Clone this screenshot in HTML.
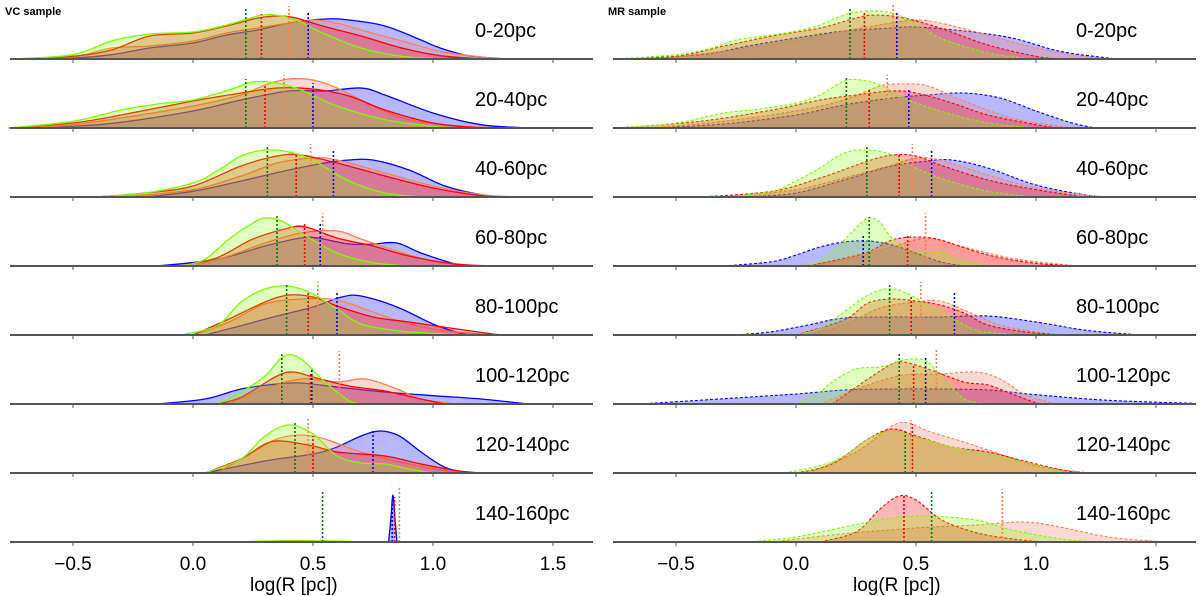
<!DOCTYPE html>
<html><head><meta charset="utf-8">
<style>
body{margin:0;background:#fff;}
svg{display:block;font-family:"Liberation Sans","DejaVu Sans",sans-serif;}
</style></head>
<body>
<svg id="chart" width="1200" height="596" viewBox="0 0 1200 596">
<text x="5" y="15" font-size="11" font-weight="bold">VC sample</text>
<text x="608" y="15" font-size="11" font-weight="bold">MR sample</text>
<g id="left"></g>
<g id="right"></g>
</svg>
<script>
// ---- data (logR, density pairs) ----
const rowLabels = ["0-20pc","20-40pc","40-60pc","60-80pc","80-100pc","100-120pc","120-140pc","140-160pc"];
const xTicks = [-0.5, 0.0, 0.5, 1.0, 1.5];
const xTickLabels = ["\u22120.5","0.0","0.5","1.0","1.5"];

const vcGreen = [
[-0.75,0,-0.5,.43,-0.34,1.8,-0.18,2.5,0,2.7,0.14,3.4,0.27,4.3,0.34,4.4,0.43,3.9,0.54,2.6,0.7,1.1,0.87,.27,1.03,0],
[-0.77,0,-0.5,.67,-0.3,1.8,-0.15,2.4,0,2.8,0.15,3.8,0.25,4.6,0.35,4.5,0.45,3.8,0.6,2.2,0.8,.83,1.0,.17,1.1,0],
[-0.4,0,-0.2,.4,0,1.4,0.1,2.6,0.2,4.1,0.3,4.7,0.4,4.5,0.5,3.7,0.65,1.6,0.8,.4,0.95,0],
[-0.05,0,0.05,.67,0.15,2.7,0.25,4.3,0.3,4.8,0.37,4.5,0.45,3.3,0.6,1.3,0.75,.33,0.9,0],
[-0.05,0,0.1,.93,0.2,3.3,0.3,4.6,0.4,4.9,0.5,4.1,0.6,2.6,0.7,1.1,0.85,.43,1.0,.17,1.1,0],
[0.1,0,0.2,1.2,0.3,2.8,0.38,4.8,0.45,4.5,0.55,2.2,0.65,.33,0.7,0],
[0.05,0,0.2,1.4,0.3,3.7,0.4,4.8,0.5,3.9,0.6,1.7,0.7,1.0,0.8,.9,0.9,.4,1.0,0],
[0.2,0,0.3,.1,0.45,.12,0.6,.1,0.7,0]];
const vcRed = [
[-0.75,0,-0.5,.27,-0.34,.9,-0.18,2.3,0,2.6,0.14,3.3,0.27,4.1,0.36,4.3,0.43,4.1,0.54,3.3,0.7,2.3,0.87,1.1,1.03,.33,1.2,0],
[-0.77,0,-0.5,.5,-0.3,1.3,0,2.7,0.2,3.5,0.35,4.0,0.5,3.9,0.65,3.2,0.8,1.8,1.0,.5,1.2,0],
[-0.4,0,-0.2,.4,0,1.1,0.2,3.1,0.35,4.1,0.45,4.2,0.6,3.4,0.8,2.1,1.0,.9,1.2,.13,1.3,0],
[-0.05,0,0.1,.83,0.25,2.7,0.4,3.8,0.47,3.9,0.6,2.8,0.75,2.0,0.9,1.0,1.1,.17,1.3,0],
[0,0,0.15,1.6,0.3,3.3,0.4,4.0,0.5,3.8,0.6,2.9,0.75,1.8,0.9,1.3,1.1,.6,1.25,.1,1.3,0],
[0.1,0,0.2,.67,0.35,2.8,0.42,3.2,0.5,2.7,0.65,1.8,0.8,1.3,0.95,.5,1.05,0],
[0.05,0,0.2,1.4,0.3,2.9,0.37,3.2,0.5,2.7,0.6,2.1,0.8,1.7,0.95,.9,1.1,.23,1.2,0],
[0.25,0,0.35,.1,0.5,.1,0.6,0]];
const vcSalmon = [
[-0.7,0,-0.5,.2,-0.34,1.1,-0.18,1.3,0,1.8,0.14,2.6,0.27,3.1,0.4,3.6,0.5,3.9,0.6,3.6,0.7,2.9,0.87,1.8,1.03,.77,1.2,.2,1.3,0],
[-0.7,0,-0.5,.33,-0.3,1.0,0,2.2,0.2,3.3,0.3,4.3,0.4,4.9,0.5,4.8,0.6,4.0,0.75,2.2,0.9,.83,1.1,.23,1.3,0],
[-0.3,0,0,.73,0.2,2.1,0.35,3.4,0.5,3.9,0.6,3.7,0.8,2.4,1.0,1.1,1.2,.23,1.35,0],
[0,0,0.15,1.0,0.3,2.3,0.45,3.3,0.6,3.5,0.7,2.7,0.85,1.5,1.0,.5,1.2,0],
[0,0,0.15,1.3,0.3,3.1,0.45,3.6,0.6,3.5,0.75,2.3,0.9,1.1,1.05,.43,1.2,.1,1.3,0],
[0.15,0,0.3,1.5,0.45,2.5,0.6,2.2,0.72,2.5,0.85,1.5,0.95,.5,1.1,0],
[0.1,0,0.25,2.1,0.35,3.4,0.45,3.8,0.55,3.4,0.7,2.1,0.9,.9,1.05,.23,1.15,0],
[0.25,0,0.4,.12,0.55,.1,0.65,0]];
const vcBlue = [
[-0.7,0,-0.5,.1,-0.34,.43,-0.18,1.1,0,1.6,0.14,2.4,0.27,2.9,0.4,3.6,0.55,4.0,0.65,3.9,0.8,3.3,0.95,1.9,1.03,1.1,1.15,.33,1.3,0],
[-0.7,0,-0.5,.17,-0.3,.57,0,1.7,0.2,2.8,0.4,3.7,0.55,3.7,0.7,4.0,0.8,3.3,1.0,1.5,1.2,.33,1.4,0],
[-0.2,0,0,.57,0.2,1.6,0.4,2.7,0.55,3.4,0.65,3.7,0.75,3.7,0.9,2.7,1.05,1.1,1.2,.23,1.3,0],
[-0.15,0,0.1,.67,0.3,2.0,0.45,2.8,0.52,2.8,0.65,2.2,0.75,2.2,0.85,2.3,0.95,1.3,1.1,.17,1.2,0],
[0.05,0,0.2,.93,0.35,1.9,0.5,2.8,0.62,3.8,0.7,3.9,0.85,2.8,1.0,1.1,1.1,.27,1.15,0],
[-0.15,0,0.05,.5,0.2,1.5,0.35,2.0,0.45,2.1,0.6,1.7,0.8,1.2,1.0,.83,1.2,.5,1.4,0],
[0.05,0,0.3,1.2,0.5,1.9,0.6,2.6,0.7,3.7,0.78,4.2,0.86,3.7,0.95,2.1,1.05,.57,1.15,0],
[0.815,0,0.825,2.5,0.833,4.7,0.841,2.5,0.85,0]];

const mrGreen = [
[-0.75,0,-0.5,.43,-0.35,1.1,-0.25,1.9,-0.1,2.4,0,2.8,0.1,3.4,0.2,4.4,0.3,4.8,0.4,4.6,0.5,3.6,0.6,2.1,0.8,.6,0.95,.1,1.0,0],
[-0.75,0,-0.5,.5,-0.3,1.5,-0.15,1.9,0,2.5,0.1,3.3,0.2,4.7,0.27,4.8,0.35,4.3,0.45,3.0,0.6,1.7,0.8,.5,1.0,0],
[-0.3,0,-0.1,.57,0,1.6,0.1,2.9,0.2,4.4,0.3,4.7,0.4,4.2,0.5,2.9,0.6,1.9,0.8,.57,1.0,0],
[0,0,0.1,.43,0.2,2.6,0.25,3.8,0.3,4.8,0.35,4.4,0.4,2.8,0.5,1.4,0.6,1.4,0.7,.43,0.8,0],
[0,0,0.1,.67,0.2,2.3,0.3,4.0,0.38,4.6,0.45,4.3,0.55,3.0,0.65,1.7,0.75,.5,0.85,.17,0.95,0],
[0,0,0.1,1.2,0.15,2.2,0.25,3.5,0.35,3.7,0.45,4.4,0.5,4.5,0.55,4.2,0.6,2.9,0.7,.53,0.8,0],
[-0.05,0,0.1,.73,0.2,1.7,0.3,3.4,0.4,4.2,0.5,3.6,0.65,2.6,0.8,1.9,0.95,1.1,1.1,.23,1.15,0],
[-0.2,0,0,.5,0.2,1.5,0.4,2.4,0.55,2.6,0.75,2.2,0.9,1.2,1.1,.33,1.25,0]];
const mrRed = [
[-0.75,0,-0.5,.27,-0.3,1.3,-0.1,2.3,0.1,3.1,0.25,4.1,0.33,4.4,0.45,4.1,0.6,3.1,0.8,1.4,1.0,.27,1.1,0],
[-0.75,0,-0.4,.67,-0.1,1.8,0.1,2.8,0.25,3.3,0.4,3.7,0.5,3.5,0.65,2.5,0.8,1.3,1.0,.33,1.1,0],
[-0.4,0,-0.1,.57,0.1,1.9,0.3,3.6,0.4,4.2,0.5,4.1,0.6,3.2,0.8,1.7,1.0,.73,1.2,0],
[0.05,0,0.2,.77,0.3,1.4,0.4,2.6,0.5,2.9,0.6,2.6,0.8,1.1,1.0,.27,1.2,0],
[0,0,0.2,1.5,0.3,3.2,0.4,3.6,0.5,3.4,0.6,3.0,0.7,2.2,0.8,1.0,0.95,.33,1.1,0],
[0.15,0,0.3,2.5,0.4,4.0,0.45,4.2,0.55,3.5,0.7,2.2,0.8,1.9,0.9,1.0,1.0,.13,1.05,0],
[0,0,0.15,.9,0.3,3.4,0.4,4.4,0.5,3.7,0.65,2.6,0.8,2.1,0.95,1.2,1.1,.33,1.2,0],
[0.1,0,0.25,1.0,0.35,3.3,0.43,4.6,0.5,4.2,0.6,2.3,0.7,1.3,0.8,.67,0.95,.17,1.05,0]];
const mrSalmon = [
[-0.6,0,-0.3,.77,0,1.9,0.2,2.8,0.4,3.6,0.5,3.9,0.6,3.6,0.8,2.4,1.0,1.1,1.2,.27,1.3,0],
[-0.6,0,-0.3,.67,0,1.7,0.2,2.8,0.35,4.2,0.45,4.4,0.55,4.2,0.7,2.7,0.9,1.0,1.1,.17,1.2,0],
[-0.3,0,0,.73,0.2,1.9,0.4,3.2,0.5,3.9,0.6,3.7,0.8,2.2,1.0,.9,1.2,.23,1.3,0],
[0,0,0.2,.6,0.4,1.9,0.55,2.8,0.7,1.9,0.9,.77,1.1,.17,1.2,0],
[0.05,0,0.2,1.0,0.35,2.7,0.5,3.3,0.6,3.4,0.7,2.5,0.85,1.0,1.0,.33,1.1,0],
[0.1,0,0.3,1.9,0.45,2.9,0.6,3.0,0.75,3.2,0.85,2.5,0.95,1.0,1.05,.2,1.1,0],
[0.05,0,0.25,2.1,0.4,4.7,0.47,5.0,0.55,4.2,0.7,3.1,0.85,1.9,1.0,.73,1.2,.07,1.25,0],
[-0.1,0,0.2,.83,0.5,1.4,0.75,1.7,0.95,2.0,1.1,1.5,1.3,.5,1.5,.07,1.55,0]];
const mrBlue = [
[-0.75,0,-0.4,.43,-0.2,1.3,0,2.1,0.2,2.8,0.4,3.1,0.5,3.2,0.7,2.8,0.9,2.1,1.1,.77,1.3,.1,1.35,0],
[-0.6,0,-0.3,.4,0,1.3,0.2,2.3,0.4,3.0,0.55,3.3,0.7,3.5,0.85,3.0,1.0,1.7,1.15,.5,1.25,0],
[-0.2,0,0,.4,0.2,1.7,0.4,3.1,0.55,3.6,0.65,3.7,0.8,2.9,1.0,1.2,1.2,.23,1.3,0],
[-0.3,0,-0.1,.43,0,1.1,0.1,1.9,0.2,2.4,0.3,2.5,0.4,2.1,0.5,1.3,0.6,.43,0.7,0],
[-0.25,0,-0.1,.33,0.05,1.0,0.2,1.7,0.4,1.8,0.6,1.8,0.8,1.9,1.0,1.3,1.2,.5,1.4,.07,1.45,0],
[-0.65,0,-0.3,.53,0,1.0,0.2,1.4,0.4,1.5,0.6,1.5,0.8,1.4,1.0,.93,1.3,.37,1.65,.07],
[],
[]];

// medians: [logR, lineTop] per row; null if absent
const vcMedGreen = [[0.22,5.0],[0.22,4.9],[0.31,5.0],[0.35,5.0],[0.39,5.0],[0.37,5.0],[0.425,5.1],[0.54,5.0]];
const vcMedRed = [[0.285,4.5],[0.30,4.2],[0.43,4.4],[0.465,4.3],[0.48,4.3],[0.49,3.1],[0.50,3.7],[0.84,4.5]];
const vcMedSalmon = [[0.40,5.3],[0.38,5.3],[0.49,5.3],[0.54,5.3],[0.52,5.3],[0.61,5.3],[0.48,5.4],[0.86,5.4]];
const vcMedBlue = [[0.48,4.6],[0.50,4.5],[0.585,4.6],[0.53,4.3],[0.60,4.3],[0.495,3.5],[0.75,4.2],[0.83,4.3]];
const mrMedGreen = [[0.225,5.0],[0.21,5.0],[0.295,5.0],[0.305,4.9],[0.39,5.0],[0.43,5.0],[0.455,4.2],[0.565,5.0]];
const mrMedRed = [[0.285,4.6],[0.305,3.8],[0.43,4.2],[0.465,3.0],[0.48,3.9],[0.49,3.9],[0.485,4.9],[0.45,4.6]];
const mrMedSalmon = [[0.405,5.4],[0.38,5.3],[0.485,5.3],[0.54,5.3],[0.52,5.3],[0.585,5.4],[0.48,5.3],[0.86,5.3]];
const mrMedBlue = [[0.42,4.6],[0.47,3.9],[0.565,4.6],[0.28,3.1],[0.66,4.2],[0.54,4.6],null,null];

// ---- layout ----
const NS="http://www.w3.org/2000/svg";
const X_MIN=-0.77, X_MAX=1.66;
const UNIT=240, PX_PER_DENS=10;
const rowBase=[59,128,197,266,335,404,473,542];
function makeX(x0){return v=>x0+v*UNIT;}
function yOf(row,d){return rowBase[row]-d*PX_PER_DENS;}

function el(tag,attrs,parent){const e=document.createElementNS(NS,tag);for(const k in attrs)e.setAttribute(k,attrs[k]);parent.appendChild(e);return e;}

function splinePath(pts){
  let d=`M${pts[0][0]},${pts[0][1]}`;
  for(let i=0;i<pts.length-1;i++){
    const p0=pts[i-1]||pts[i],p1=pts[i],p2=pts[i+1],p3=pts[i+2]||p2;
    const t=1/6;
    const c1=[p1[0]+(p2[0]-p0[0])*t,p1[1]+(p2[1]-p0[1])*t];
    const c2=[p2[0]-(p3[0]-p1[0])*t,p2[1]-(p3[1]-p1[1])*t];
    d+=` C${c1[0].toFixed(1)},${c1[1].toFixed(1)} ${c2[0].toFixed(1)},${c2[1].toFixed(1)} ${p2[0].toFixed(1)},${p2[1].toFixed(1)}`;
  }
  return d;
}

function drawPanel(g,x0,panelLeft,labelX,series,meds,dashed,prefix){
  const X=makeX(x0);
  for(let r=0;r<8;r++){
    const base=rowBase[r];
    const rg=el('g',{},g);
    
    
    series.forEach(s=>{
      const k=s.data[r];
      if(!k||k.length<4)return;
      const pts=[];
      for(let i=0;i<k.length;i+=2){pts.push([X(Math.max(X_MIN,Math.min(X_MAX,k[i]))),Math.min(base,yOf(r,k[i+1]))]);}
      const line=splinePath(pts);
      const fill=el('path',{d:line+` L${pts[pts.length-1][0]},${base} L${pts[0][0]},${base} Z`,fill:s.color,'fill-opacity':s.alpha,stroke:'none'},rg);
      
      
      const ln=el('path',{d:line,fill:'none',stroke:s.stroke,'stroke-width':dashed?1.1:1.3,'stroke-dasharray':dashed?'3,2':'none'},rg);
      
      
    });
    meds.forEach(m=>{
      const v=m.data[r]; if(!v)return;
      const ml=el('line',{x1:X(v[0]),x2:X(v[0]),y1:base,y2:yOf(r,v[1]),stroke:m.color,'stroke-width':1.6,'stroke-dasharray':'2,2'},rg);
      
      
    });
    const bl=el('line',{x1:panelLeft,x2:panelLeft+583,y1:base,y2:base,stroke:'#555','stroke-width':2},rg);
    
    
    xTicks.forEach(t=>{
      const tk=el('line',{x1:X(t),x2:X(t),y1:base+1,y2:base+4,stroke:'#555','stroke-width':1},rg);
      
      
    });
    const lab=el('text',{x:labelX,y:base-22,'font-size':20,fill:'#000'},rg);
    lab.textContent=rowLabels[r];
    
    
  }
  xTicks.forEach((t,i)=>{
    const tl=el('text',{x:X(t),y:570,'font-size':19,'text-anchor':'middle'},g);
    tl.textContent=xTickLabels[i];
    
    
  });
  const xt=el('text',{x:X(0.42),y:591,'font-size':19,'text-anchor':'middle'},g);
  xt.textContent='log(R [pc])';
  
  
}

drawPanel(document.getElementById('left'),193,10,475,[
  {name:'blue',data:vcBlue,color:'#0000ff',stroke:'#0000ff',alpha:0.28},
  {name:'salmon',data:vcSalmon,color:'#fa8072',stroke:'#ff7f50',alpha:0.3},
  {name:'red',data:vcRed,color:'#ff0000',stroke:'#ff0000',alpha:0.28},
  {name:'green',data:vcGreen,color:'#7fff00',stroke:'#7cfc00',alpha:0.25}],
 [{name:'green',data:vcMedGreen,color:'#008000'},{name:'red',data:vcMedRed,color:'#ff0000'},
  {name:'salmon',data:vcMedSalmon,color:'#ff7f50'},{name:'blue',data:vcMedBlue,color:'#0000ff'}],false,'vc');

drawPanel(document.getElementById('right'),796,613,1076,[
  {name:'blue',data:mrBlue,color:'#0000ff',stroke:'#0000ff',alpha:0.28},
  {name:'salmon',data:mrSalmon,color:'#fa8072',stroke:'#ff7f50',alpha:0.3},
  {name:'red',data:mrRed,color:'#ff0000',stroke:'#ff0000',alpha:0.28},
  {name:'green',data:mrGreen,color:'#7fff00',stroke:'#7cfc00',alpha:0.25}],
 [{name:'green',data:mrMedGreen,color:'#008000'},{name:'red',data:mrMedRed,color:'#ff0000'},
  {name:'salmon',data:mrMedSalmon,color:'#ff7f50'},{name:'blue',data:mrMedBlue,color:'#0000ff'}],true,'mr');
</script>
</body></html>
